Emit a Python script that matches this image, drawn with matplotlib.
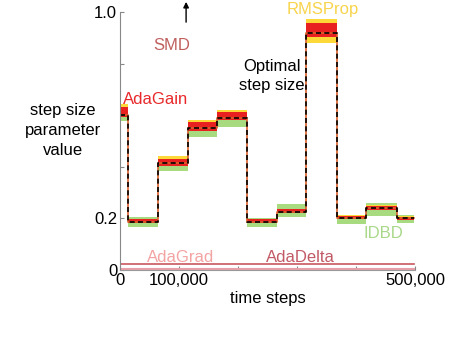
import matplotlib
matplotlib.use("Agg")
import matplotlib.pyplot as plt

plt.rcParams['font.family'] = ['Liberation Sans', 'DejaVu Sans']

# segment boundaries (time steps) and optimal step size per segment
bounds = [0, 14000, 64000, 115000, 165000, 216000, 266000, 316000, 367000, 417000, 469000, 499000]
optimal = [0.60, 0.187, 0.413, 0.549, 0.59, 0.187, 0.226, 0.92, 0.203, 0.239, 0.20]

# spread of each learned step size around the optimum, per segment
rms_hi = [0.645, 0.198, 0.44, 0.582, 0.622, 0.198, 0.238, 0.972, 0.213, 0.252, 0.209]
rms_lo = [0.592, 0.181, 0.405, 0.538, 0.58, 0.181, 0.219, 0.88, 0.197, 0.232, 0.195]
ada_hi = [0.632, 0.196, 0.432, 0.572, 0.612, 0.196, 0.235, 0.958, 0.21, 0.249, 0.206]
ada_lo = [0.592, 0.181, 0.405, 0.538, 0.58, 0.181, 0.219, 0.905, 0.197, 0.232, 0.195]
idbd_hi = [0.615, 0.205, 0.422, 0.558, 0.598, 0.203, 0.255, 0.93, 0.215, 0.26, 0.212]
idbd_lo = [0.578, 0.168, 0.385, 0.515, 0.555, 0.168, 0.205, 0.90, 0.18, 0.21, 0.183]

adagrad = 0.003
adadelta = 0.022

xticks = [0, 100000, 200000, 300000, 400000, 500000]
xticklabels = ['0', '100,000', '', '', '', '500,000']
yticks = [0, 0.2, 0.4, 0.6, 0.8, 1.0]
yticklabels = ['0', '0.2', '', '', '', '1.0']


def ext(v):
    return v + [v[-1]]


fig = plt.figure(figsize=(4.6, 3.4), dpi=100)
ax = fig.add_axes([0.2609, 0.2059, 0.6413, 0.7588])

ax.fill_between(bounds, ext(idbd_lo), ext(idbd_hi), step='post', color='#a8da80', lw=0)
ax.fill_between(bounds, ext(rms_lo), ext(rms_hi), step='post', color='#fcd838', lw=0)
ax.fill_between(bounds, ext(ada_lo), ext(ada_hi), step='post', color='#e8201f', lw=0)
ax.step(bounds, ext(optimal), where='post', color='#d8602a', lw=1.2)
ax.step(bounds, ext(optimal), where='post', color='black', lw=1.2, ls=(0, (3, 2)))

ax.plot([bounds[0], bounds[-1]], [adadelta, adadelta], color='#c8575f', lw=1.2)
ax.plot([bounds[0], bounds[-1]], [adagrad, adagrad], color='#e8a0a8', lw=1.5)

ax.set_xlim(0, 500000)
ax.set_ylim(0, 1.0)
ax.set_xticks(xticks)
ax.set_xticklabels(xticklabels)
ax.set_yticks(yticks)
ax.set_yticklabels(yticklabels)
ax.tick_params(direction='in', length=3, color='#888888', labelsize=12, pad=2)
for s in ['top', 'right']:
    ax.spines[s].set_visible(False)
ax.spines['left'].set_color('#888888')
ax.spines['bottom'].set_color('#999999')

ax.set_xlabel('time steps', fontsize=12, labelpad=2)
ax.text(-0.193, 0.54, 'step size\nparameter\nvalue', transform=ax.transAxes,
        ha='center', va='center', fontsize=12, linespacing=1.4)

ax.text(5000, 0.66, 'AdaGain', color='#e8282a', fontsize=12, ha='left', va='center')
ax.text(344000, 1.008, 'RMSProp', color='#f8d44c', fontsize=12, ha='center', va='center')
ax.text(258000, 0.752, 'Optimal\nstep size', color='black', fontsize=12,
        ha='center', va='center', linespacing=1.3)
ax.text(446000, 0.14, 'IDBD', color='#a8d888', fontsize=12, ha='center', va='center')
ax.text(102000, 0.05, 'AdaGrad', color='#f4a3a3', fontsize=12, ha='center', va='center')
ax.text(305000, 0.05, 'AdaDelta', color='#c25a66', fontsize=12, ha='center', va='center')
ax.text(88000, 0.872, 'SMD', color='#c0605f', fontsize=12, ha='center', va='center')
ax.annotate('', xy=(112000, 1.05), xytext=(112000, 0.95), annotation_clip=False,
            arrowprops=dict(arrowstyle='-|>', color='black', lw=1, mutation_scale=8))

fig.savefig('out.png', dpi=100)
